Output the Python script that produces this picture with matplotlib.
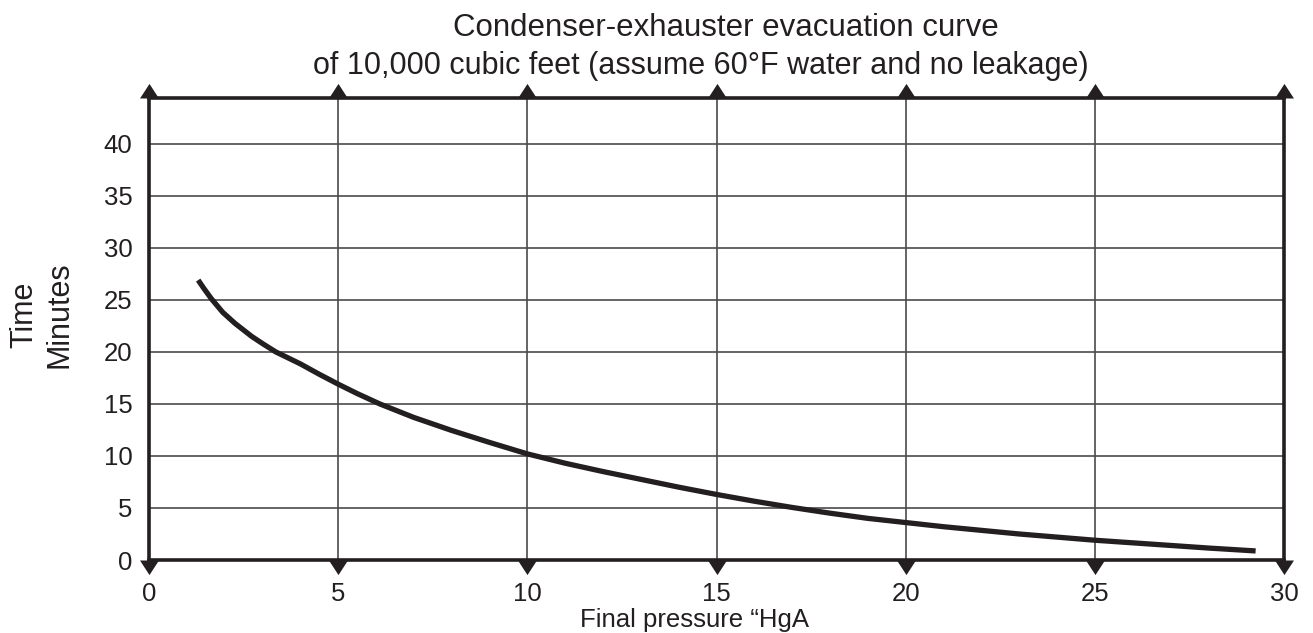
import matplotlib
matplotlib.use("Agg")
import matplotlib.pyplot as plt
from matplotlib.path import Path

pressure = [1.3, 1.45, 1.65, 1.95, 2.27, 2.71, 3.0, 3.35, 4.0, 4.5, 5.0, 5.5, 6.1, 7.0, 8.0, 9.0, 10.0, 11.0,
            12.0, 13.0, 14.0, 15.0, 16.0, 17.0, 18.0, 19.0, 20.0, 21.0, 22.0, 23.0, 24.0, 25.0, 26.0, 27.0,
            28.0, 29.25]
minutes = [26.9, 26.1, 25.1, 23.8, 22.75, 21.5, 20.8, 20.0, 18.85, 17.85, 16.9, 16.0, 15.0, 13.7, 12.45, 11.3,
           10.2, 9.3, 8.5, 7.75, 7.0, 6.3, 5.65, 5.05, 4.5, 4.0, 3.6, 3.2, 2.85, 2.5, 2.2, 1.9, 1.65, 1.4,
           1.15, 0.87]
xticks = [0, 5, 10, 15, 20, 25, 30]
yticks = [0, 5, 10, 15, 20, 25, 30, 35, 40]
title_lines = ["Condenser-exhauster evacuation curve",
               "of 10,000 cubic feet (assume 60\u00b0F water and no leakage)"]

INK = '#231f20'
plt.rcParams['font.family'] = ['Liberation Sans', 'DejaVu Sans']
W, H = 1313, 633
fig = plt.figure(figsize=(W / 100, H / 100), dpi=100)
ax = fig.add_axes([149 / W, 1 - 560 / H, (1284 - 149) / W, (560 - 98) / H])
YMAX = 44.4
ax.set_xlim(0, 30)
ax.set_ylim(0, YMAX)
ax.set_xticks(xticks)
ax.set_yticks(yticks)
ax.grid(True, color='#4a4a4a', linewidth=1.2)
ax.tick_params(length=0, labelsize=18.5, colors=INK)
ax.tick_params(axis='x', pad=16)
ax.tick_params(axis='y', pad=12)
for s in ax.spines.values():
    s.set_linewidth(2.6)
    s.set_color(INK)
    s.set_zorder(3)
ax.plot(pressure, minutes, color=INK, linewidth=3.8, solid_capstyle='butt',
        solid_joinstyle='round', zorder=4)

up = Path([(-0.65, 0), (0.65, 0), (0, 1), (-0.65, 0)], closed=True)
down = Path([(-0.65, 0), (0.65, 0), (0, -1), (-0.65, 0)], closed=True)
ax.plot(xticks, [YMAX] * len(xticks), linestyle='none', marker=up, markersize=21,
        color=INK, markeredgewidth=0, clip_on=False, zorder=5)
ax.plot(xticks, [0] * len(xticks), linestyle='none', marker=down, markersize=21,
        color=INK, markeredgewidth=0, clip_on=False, zorder=5)

fig.text(726 / W, 1 - 36 / H, title_lines[0], fontsize=22.5, color=INK, ha='center', va='baseline')
fig.text(701 / W, 1 - 74 / H, title_lines[1], fontsize=22, color=INK, ha='center', va='baseline')
fig.text(695 / W, 1 - 627 / H, "Final pressure \u201cHgA", fontsize=18.5, color=INK, ha='center', va='baseline')
fig.text(24 / W, 1 - 315 / H, "Time", fontsize=22, color=INK, rotation=90, ha='center', va='center')
fig.text(59 / W, 1 - 315 / H, "Minutes", fontsize=22, color=INK, rotation=90, ha='center', va='center')
fig.savefig("out.png", dpi=100)
